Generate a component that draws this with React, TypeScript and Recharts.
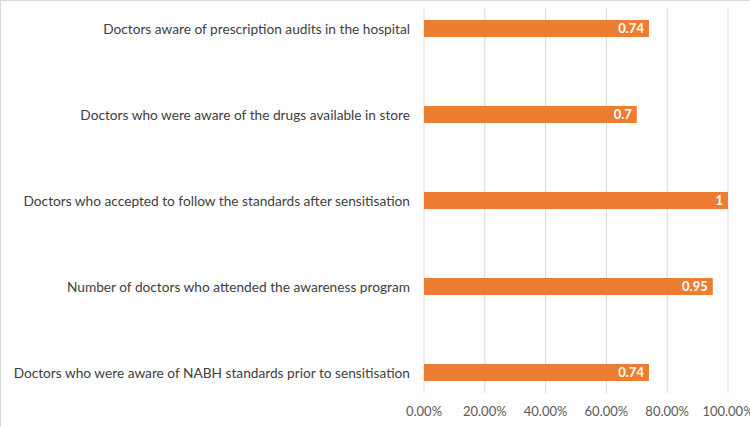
import React from 'react';
import { BarChart, Bar, XAxis, YAxis, CartesianGrid, LabelList } from 'recharts';

const categories = [
  'Doctors aware of prescription audits in the hospital',
  'Doctors who were aware of the drugs available in store',
  'Doctors who accepted to follow the standards after sensitisation',
  'Number of doctors who attended the awareness program',
  'Doctors who were aware of NABH standards prior to sensitisation',
];
const values = [0.74, 0.7, 1, 0.95, 0.74];
const xTicks = [0, 0.2, 0.4, 0.6, 0.8, 1];

const data = categories.map((name, i) => ({ idx: i, name, value: values[i] }));

const font = 'Lato, "Open Sans", sans-serif';

// category labels on one line, right-aligned against the plot
const CategoryTick = (props: any) => {
  const { x, y, payload } = props;
  return (
    <text
      x={x + 4}
      y={y}
      dy="0.35em"
      textAnchor="end"
      fill="#404040"
      fontSize={13.7}
      fontFamily={font}
    >
      {categories[payload.value]}
    </text>
  );
};

const App: React.FC = () => {
  return (
    <div
      style={{
        position: 'fixed',
        left: 0,
        top: 0,
        width: 750,
        height: 427,
        background: '#fff',
        borderLeft: '1px solid #d9d9d9',
        borderTop: '1px solid #d9d9d9',
        boxSizing: 'border-box',
        overflow: 'hidden',
      }}
    >
      <BarChart
        width={749}
        height={426}
        data={data}
        layout="vertical"
        margin={{ top: 7, right: 22, left: 0, bottom: 4 }}
        barSize={17}
      >
        <CartesianGrid horizontal={false} stroke="#d9d9d9" strokeWidth={1} />
        <XAxis
          type="number"
          domain={[0, 1]}
          ticks={xTicks}
          tickFormatter={(v: number) => `${(v * 100).toFixed(2)}%`}
          axisLine={false}
          tickLine={false}
          tick={{ fill: '#595959', fontSize: 13, fontFamily: font }}
          tickMargin={8}
          height={30}
          interval={0}
          allowDataOverflow
        />
        <YAxis
          type="number"
          dataKey="idx"
          domain={[-0.244, 4.233]}
          ticks={[0, 1, 2, 3, 4]}
          allowDataOverflow
          width={423}
          axisLine={false}
          tickLine={false}
          tick={<CategoryTick />}
          tickMargin={12}
          interval={0}
        />
        <Bar dataKey="value" fill="#ED7D31" isAnimationActive={false}>
          <LabelList
            dataKey="value"
            position="insideRight"
            fill="#ffffff"
            fontSize={13}
            fontWeight="bold"
            fontFamily={font}
          />
        </Bar>
      </BarChart>
    </div>
  );
};

export default App;
